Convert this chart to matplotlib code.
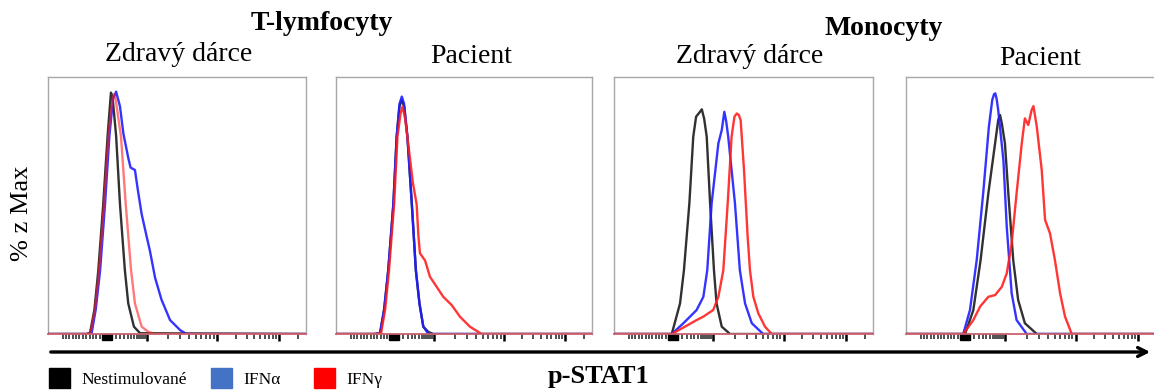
import numpy as np
import matplotlib
matplotlib.use("Agg")
import matplotlib.pyplot as plt
from matplotlib import rcParams, transforms
from matplotlib.patches import Rectangle, FancyArrowPatch

rcParams.update({"font.family": ["Liberation Serif", "DejaVu Serif"]})

# x: position on the p-STAT1 axis (0-1000 channel scale), y: % z Max
# T-lymfocyty, zdravy darce
tz_nes_x = [0, 150, 163, 180, 195, 214, 231, 244, 250, 264, 279, 298, 311, 333, 357, 1000]
tz_nes_y = [0, 0, 0.5, 10, 26, 53, 81, 98.6, 97, 81, 53, 26, 12.5, 3, 0.3, 0]
tz_ifna_x = [0, 155, 169, 185, 202, 221, 238, 252, 264, 279, 292, 311, 320, 337, 348, 363, 382, 395, 415, 440, 473, 512, 537, 1000]
tz_ifna_y = [0, 0, 0.3, 10, 26, 53, 81, 96, 99, 93, 82, 72, 68, 67, 59, 49, 40, 34, 23, 14, 5.7, 1.6, 0, 0]
tz_ifng_x = [0, 150, 165, 182, 198, 217, 234, 250, 256, 262, 283, 301, 322, 337, 363, 390, 415, 1000]
tz_ifng_y = [0, 0, 0.5, 10, 26, 53, 81, 96, 98, 96, 80.6, 53.4, 26, 12.5, 3, 0.8, 0, 0]

# T-lymfocyty, pacient
tp_nes_x = [0, 150, 172, 188, 204, 224, 237, 248, 257, 266, 279, 296, 312, 326, 341, 361, 380, 1000]
tp_nes_y = [0, 0, 0.3, 10, 26, 53, 80.6, 93, 95.6, 93, 80.6, 53.4, 26, 12.5, 3, 0.8, 0, 0]
tp_ifna_x = [0, 150, 172, 188, 204, 224, 237, 248, 257, 266, 279, 296, 312, 326, 341, 361, 1000]
tp_ifna_y = [0, 0, 0.3, 10, 26, 53, 80.6, 94, 97, 94, 80.6, 53.4, 26, 12.5, 3, 0, 0]
tp_ifng_x = [0, 155, 176, 192, 207, 227, 240, 252, 260, 270, 284, 300, 315, 322, 328, 348, 367, 393, 419, 452, 484, 523, 569, 1000]
tp_ifng_y = [0, 0, 0.3, 10, 26, 53, 80.6, 90, 92.9, 88, 76, 62, 53, 40, 33, 30, 23.4, 19.3, 15.2, 11.8, 7.1, 3, 0, 0]

# Monocyty, zdravy darce
mz_nes_x = [0, 200, 223, 255, 270, 291, 306, 317, 330, 339, 348, 358, 371, 386, 396, 416, 448, 1000]
mz_nes_y = [0, 0, 0, 12.5, 26, 53.4, 80.6, 88.8, 90.5, 91.8, 88, 80.6, 53.4, 26, 12.5, 3, 0, 0]
mz_ifna_x = [0, 200, 223, 268, 319, 345, 360, 377, 403, 416, 426, 433, 441, 467, 486, 506, 532, 576, 1000]
mz_ifna_y = [0, 0, 0, 4.4, 9.8, 15.2, 26, 53.4, 77.9, 83.3, 90.8, 87, 80.6, 53.4, 26, 12.5, 4.4, 0, 0]
mz_ifng_x = [0, 200, 223, 274, 319, 345, 383, 403, 422, 439, 454, 465, 474, 482, 489, 502, 516, 525, 538, 557, 583, 609, 1000]
mz_ifng_y = [0, 0, 0, 3, 5.7, 7.1, 9.8, 15.2, 26, 53.4, 80.6, 88.8, 90.1, 89.5, 87.4, 67, 39.8, 26, 15.2, 8.5, 3, 0, 0]

# Monocyty, pacient
mp_nes_x = [0, 200, 228, 260, 288, 318, 344, 356, 363, 370, 382, 395, 414, 433, 459, 505, 1000]
mp_nes_y = [0, 0, 0, 9.8, 30.2, 57.5, 77.9, 87.4, 89.5, 86, 77.9, 57.5, 30.2, 13.9, 4.4, 0, 0]
mp_ifna_x = [0, 200, 221, 247, 273, 298, 320, 333, 340, 345, 350, 356, 376, 389, 408, 427, 466, 1000]
mp_ifna_y = [0, 0, 0, 9.8, 30.2, 57.5, 84.7, 95.6, 98, 98.3, 96, 91.5, 71.1, 43.8, 16.6, 5.7, 0, 0]
mp_ifng_x = [0, 200, 221, 260, 286, 318, 344, 370, 389, 408, 427, 447, 459, 472, 485, 492, 505, 524, 537, 556, 575, 595, 614, 640, 1000]
mp_ifng_y = [0, 0, 0, 5.7, 11.2, 15.2, 15.9, 19.3, 24.8, 37, 57.5, 77.9, 88.1, 85.4, 91.5, 93.1, 84.7, 67, 46.6, 41.1, 30.2, 16.6, 7.1, 0, 0]

legend_labels = ["Nestimulované", "IFNα", "IFNγ"]
subtitles = ["Zdravý dárce", "Pacient", "Zdravý dárce", "Pacient"]
group_titles = ["T-lymfocyty", "Monocyty"]

W, H = 1154, 390
fig = plt.figure(figsize=(W / 100, H / 100), dpi=100)

def fx(px):
    return px / W

def fy(py):
    return 1 - py / H

line_colors = ["#1a1a1a", "#1e1eff", "#ff2020"]
panels = [
    (48, 306, [(tz_nes_x, tz_nes_y), (tz_ifna_x, tz_ifna_y), (tz_ifng_x, tz_ifng_y)], 0.6),
    (336, 592, [(tp_nes_x, tp_nes_y), (tp_ifna_x, tp_ifna_y), (tp_ifng_x, tp_ifng_y)], 0.9),
    (614, 873, [(mz_nes_x, mz_nes_y), (mz_ifna_x, mz_ifna_y), (mz_ifng_x, mz_ifng_y)], 0.9),
    (906, 1165, [(mp_nes_x, mp_nes_y), (mp_ifna_x, mp_ifna_y), (mp_ifng_x, mp_ifng_y)], 0.9),
]
top, bottom = 77, 334

# biexponential-like tick layout of the cytometry axis
major = [384, 655, 895]
minor = list(np.linspace(57, 200, 12))
minor += [262, 280, 296, 310, 323, 334, 344, 352, 360, 368, 376]
minor += [384 + 271 * np.log10(k) for k in range(2, 10)]
minor += [655 + 240 * np.log10(k) for k in range(2, 10)]
minor += [895 + 240 * np.log10(2)]

for left, right, curves, red_alpha in panels:
    ax = fig.add_axes([fx(left), fy(bottom), fx(right - left), (bottom - top) / H])
    for i, ((x, y), c) in enumerate(zip(curves, line_colors)):
        a = red_alpha if i == 2 else 0.9
        ax.plot(x, y, color=c, lw=1.7, alpha=a, solid_joinstyle="round", zorder=3)
    ax.set_xlim(0, 1000)
    ax.set_ylim(0, 105)
    for s in ax.spines.values():
        s.set_color("#a8a8a8")
        s.set_linewidth(1)
    ax.spines["bottom"].set_color("#c8606e")
    ax.spines["bottom"].set_linewidth(1.3)
    ax.spines["bottom"].set_zorder(4)
    ax.set_yticks([])
    ax.set_xticks(major)
    ax.set_xticks(minor, minor=True)
    ax.tick_params(axis="x", which="major", direction="out", length=5.2, width=1.8,
                   color="black", labelbottom=False)
    ax.tick_params(axis="x", which="minor", direction="out", length=3.4, width=1.1,
                   color="#202020")
    trans = transforms.blended_transform_factory(ax.transData, ax.transAxes)
    ax.add_patch(Rectangle((208, -0.025), 40, 0.025, transform=trans,
                           color="black", clip_on=False))

# titles
fig.text(fx(322), fy(30), group_titles[0], ha="center", va="baseline",
         fontsize=20, fontweight="bold")
fig.text(fx(884), fy(35), group_titles[1], ha="center", va="baseline",
         fontsize=20, fontweight="bold")
sub_pos = [(179, 61), (471, 63), (750, 63), (1040, 65)]
for t, (x, y) in zip(subtitles, sub_pos):
    fig.text(fx(x), fy(y), t, ha="center", va="baseline", fontsize=20)

fig.text(fx(22), fy(213), "% z Max", rotation=90, ha="center", va="center", fontsize=19)

# x-axis arrow and label
fig.add_artist(FancyArrowPatch((fx(48), fy(352)), (fx(1153), fy(352)),
                               transform=fig.transFigure, arrowstyle="->",
                               mutation_scale=16, lw=2.4, color="black"))
fig.text(fx(599), fy(383), "p-STAT1", ha="center", va="baseline",
         fontsize=19, fontweight="bold")

# legend
leg_colors = ["#000000", "#4472c4", "#ff0000"]
leg_x = [49, 211, 314]
for lab, c, x in zip(legend_labels, leg_colors, leg_x):
    fig.add_artist(Rectangle((fx(x), fy(388)), fx(21), 20 / H,
                             transform=fig.transFigure, color=c))
    fig.text(fx(x + 32), fy(384), lab, ha="left", va="baseline", fontsize=12.5)

fig.savefig("out.png", dpi=100)
